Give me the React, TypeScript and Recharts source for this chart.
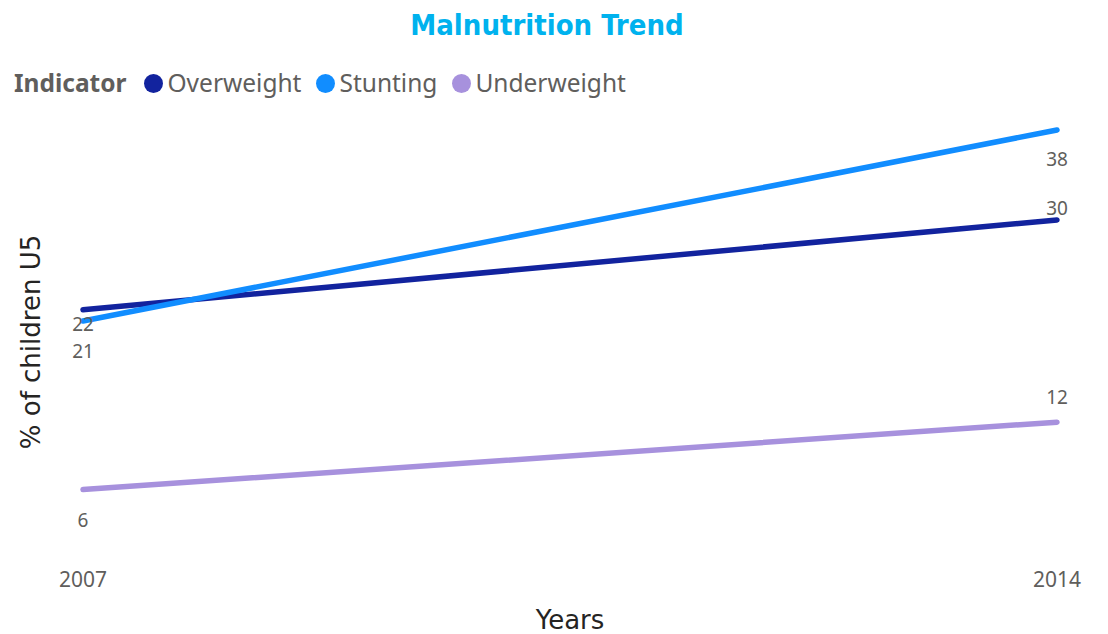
import React from 'react';
import { LineChart, Line, XAxis, YAxis, LabelList, Label } from 'recharts';

const years = [2007, 2014];
const overweight = [22, 30];
const stunting = [21, 38];
const underweight = [6, 12];
const yTicks = [0, 38];

const seriesNames = ['Overweight', 'Stunting', 'Underweight'];
const seriesValues = [overweight, stunting, underweight];
const seriesColors = ['#12239E', '#118DFF', '#A791DD'];
// vertical offsets of data labels (style only)
const labelDy = [
  [14, -12],
  [30, 29],
  [30, -25],
];

const data = years.map((y, i) => {
  const row: any = { year: y };
  seriesNames.forEach((n, s) => {
    row[n] = seriesValues[s][i];
  });
  return row;
});

const W = 1108;
const H = 634;
const UI = '"Noto Sans", "Open Sans", sans-serif';
const DINC = '"DejaVu Sans Condensed", "DejaVu Sans", sans-serif';
const DIN = '"DejaVu Sans", sans-serif';

const makeLabel = (s: number) => (props: any) => {
  const { x, y, value, index } = props;
  return (
    <text
      x={x}
      y={y + labelDy[s][index]}
      textAnchor="middle"
      dominantBaseline="central"
      fontFamily={UI}
      fontSize={19}
      fill="#605E5C"
    >
      {value}
    </text>
  );
};

const LegendBlock = () => (
  <div
    style={{
      position: 'absolute',
      left: 14,
      top: 66,
      display: 'flex',
      alignItems: 'center',
      fontFamily: UI,
      fontSize: 24.5,
      color: '#605E5C',
      whiteSpace: 'nowrap',
      lineHeight: '34px',
    }}
  >
    <span style={{ fontWeight: 'bold', marginRight: 18 }}>Indicator</span>
    {seriesNames.map((n, i) => (
      <span key={n} style={{ display: 'flex', alignItems: 'center', marginRight: 15 }}>
        <span style={{ width: 19, height: 19, borderRadius: '50%', background: seriesColors[i], display: 'inline-block', marginRight: 4 }} />
        {n}
      </span>
    ))}
  </div>
);

export default function App() {
  return (
    <div style={{ position: 'absolute', left: 0, top: 0, width: W, height: H, background: '#fff', overflow: 'hidden' }}>
      <div style={{ position: 'absolute', left: -7, top: 8, width: W, textAlign: 'center', fontFamily: DINC, fontWeight: 'bold', fontSize: 29, color: '#00B2EE' }}>
        Malnutrition Trend
      </div>
      <LegendBlock />
      <div
        style={{
          position: 'absolute',
          left: 31,
          top: 342,
          transform: 'translate(-50%, -50%) rotate(-90deg)',
          fontFamily: DIN,
          fontSize: 26,
          color: '#252423',
          whiteSpace: 'nowrap',
        }}
      >
        % of children U5
      </div>
      <LineChart width={W} height={H} data={data} margin={{ top: 130, right: 51, bottom: 0, left: 83 }}>
        <XAxis
          dataKey="year"
          type="number"
          domain={[2007, 2014]}
          ticks={years}
          axisLine={false}
          tickLine={false}
          tickSize={0}
          tickMargin={15}
          height={77}
          tick={{ fontFamily: UI, fontSize: 21, fill: '#605E5C' }}
        >
          <Label value="Years" position="insideBottom" offset={5} style={{ fontFamily: DIN, fontSize: 26, fill: '#252423' }} />
        </XAxis>
        <YAxis hide domain={[0, 38]} ticks={yTicks} />
        {seriesNames.map((n, s) => (
          <Line
            key={n}
            dataKey={n}
            stroke={seriesColors[s]}
            strokeWidth={5.5}
            strokeLinecap="round"
            dot={false}
            activeDot={false}
            isAnimationActive={false}
          >
            <LabelList dataKey={n} content={makeLabel(s)} />
          </Line>
        ))}
      </LineChart>
    </div>
  );
}
